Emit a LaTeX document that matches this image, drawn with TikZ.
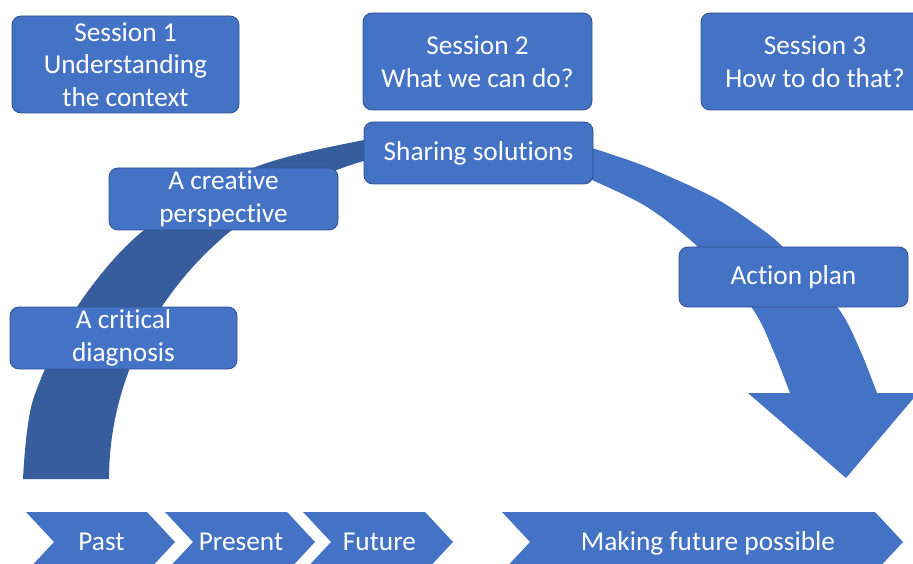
\documentclass[tikz,border=0pt]{standalone}
\usepackage{fontspec}
\setmainfont[Ligatures=NoCommon, RawFeature={-liga;-clig;-calt;-dlig}]{Carlito}
\definecolor{blueA}{HTML}{4472C4}
\definecolor{blueDark}{HTML}{375D9D}
\definecolor{boxLine}{HTML}{2F528F}
\begin{document}
\begin{tikzpicture}[x=1pt,y=-1pt,
  box/.style={draw=boxLine, line width=0.8pt, fill=blueA, rounded corners=9pt, text=white, align=center, inner sep=0pt, font=\fontsize{27.3}{32.5}\selectfont},
  chev/.style={fill=blueA},
  chevtext/.style={text=white, anchor=base, inner sep=0pt, font=\fontsize{27.3}{32.5}\selectfont}]
\useasboundingbox (0,0) rectangle (913,564);
\clip (0,0) rectangle (913,564);
% left dark band
\fill[blueDark] plot[smooth] coordinates {(23,479) (33,400) (77,307) (143,231) (253,168) (364,140) (430,132)}
  -- plot[domain=100:180, samples=60] ({480+371*cos(\x)}, {479-335*sin(\x)}) -- cycle;
% right curved arrow
\fill[blueA] plot[smooth] coordinates {(570,142) (592,148) (647,167) (713,197) (753,223) (783,247) (838,308) (860,350) (877,393)}
  -- (918,393) -- (846,478) -- (748,393) -- (790,393)
  -- plot[smooth] coordinates {(790,393) (773,350) (752,308) (698,247) (647,207) (592,180) (570,172)} -- cycle;
% chevrons
\fill[chev] (26,512) -- (147,512) -- (175,542) -- (147,572) -- (26,572) -- (54,542) -- cycle;
\fill[chev] (165,512) -- (287,512) -- (315,542) -- (287,572) -- (165,572) -- (193,542) -- cycle;
\fill[chev] (303,512) -- (425,512) -- (453,542) -- (425,572) -- (303,572) -- (331,542) -- cycle;
\fill[chev] (502,512) -- (875,512) -- (903,542) -- (875,572) -- (502,572) -- (530,542) -- cycle;
\node[chevtext] (past) at (101.5,550) {Past};
\node[chevtext] (present) at (241,550) {Present};
\node[chevtext] (future) at (379.5,550) {Future};
\node[chevtext] (making) at (708,550) {Making future possible};
% boxes
\node[box, minimum width=227pt, minimum height=97pt] (s1) at (125.5,64.5) {Session 1\\Understanding\\the context};
\node[box, minimum width=229pt, minimum height=97pt] (s2) at (477.5,61.5) {Session 2\\What we can do?};
\node[box, minimum width=228pt, minimum height=97pt] (s3) at (815,61.5) {Session 3\\How to do that?};
\node[box, minimum width=229pt, minimum height=62pt] (creative) at (223.5,199) {A creative\\perspect\kern0pt ive};
\node[box, minimum width=227pt, minimum height=62pt] (critical) at (123.5,338) {A crit\kern0pt ical\\diagnosis};
\node[box, minimum width=229pt, minimum height=62pt] (sharing) at (478.5,153) {Sharing solut\kern0pt ions};
\node[box, minimum width=229pt, minimum height=60pt] (action) at (793.5,277) {Action plan};
\end{tikzpicture}
\end{document}
